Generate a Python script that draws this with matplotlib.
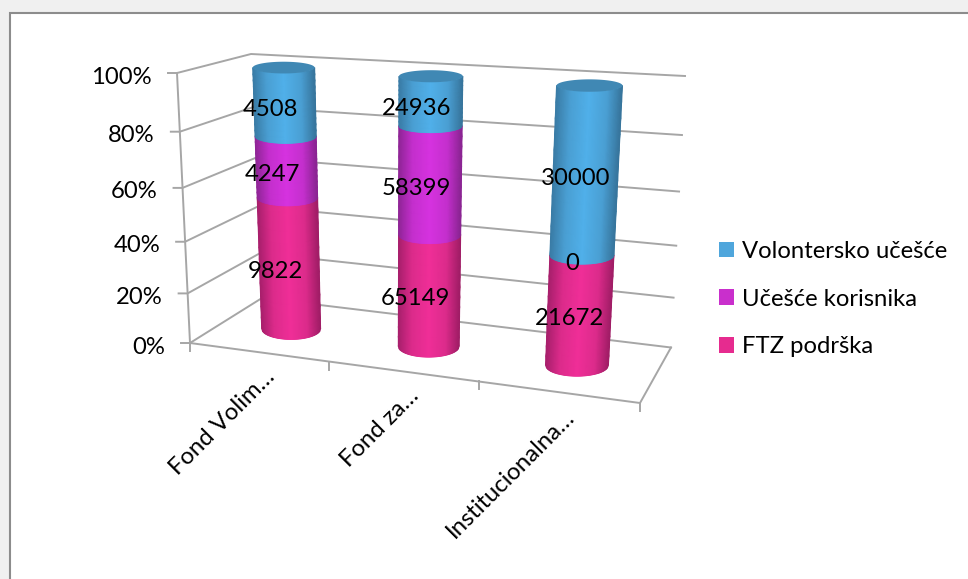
# plot.py
# 100% stacked cylinders on a hand made 3D box, the way the spreadsheet draws them

import matplotlib
matplotlib.use("Agg")
import matplotlib.pyplot as plt
from matplotlib.colors import LinearSegmentedColormap
from matplotlib.patches import Patch, Polygon, Rectangle
import numpy as np

categories = ["Fond Volim…", "Fond za…", "Institucionalna…"]
series_names = ["FTZ podrška", "Učešće korisnika", "Volontersko učešće"]
ftz_podrska = [9822, 65149, 21672]
ucesce_korisnika = [4247, 58399, 0]
volontersko = [4508, 24936, 30000]
percent_ticks = [0, 20, 40, 60, 80, 100]

# box corners in pixels: front/back, left/right, bottom/top
FL0, FR0 = np.array([190, 343.0]), np.array([640, 403.0])
BL0, BR0 = np.array([262, 298.0]), np.array([671, 347.5])
FL1, FR1 = np.array([177, 73.0]), np.array([662, 105.0])
BL1, BR1 = np.array([251, 54.0]), np.array([685, 76.0])

plt.rcParams["font.family"] = ["Lato", "DejaVu Sans"]
FS = 17.2
GRID = "#a6a6a6"

shades = [
    [(0, "#a81f6c"), (0.22, "#dc2b8b"), (0.5, "#f02e98"), (0.78, "#dc2b8b"), (1, "#a01d66")],
    [(0, "#8f2596"), (0.22, "#c42fcd"), (0.5, "#d632e0"), (0.78, "#c42fcd"), (1, "#8a2492")],
    [(0, "#3a7ca6"), (0.22, "#4a9fd3"), (0.5, "#50b0ea"), (0.78, "#4a9fd3"), (1, "#37759c")],
]


def persp_u(u):
    return u * 0.894 / (u * 0.894 + (1 - u))


def persp_h(h):
    return h * 0.9 / (h * 0.9 + (1 - h))


def project(u, v, h):
    # u along categories, v into the depth, h share of height
    s, t = persp_u(u), persp_h(h)
    front = (FL0 + (FR0 - FL0) * s) * (1 - t) + (FL1 + (FR1 - FL1) * s) * t
    back = (BL0 + (BR0 - BL0) * s) * (1 - t) + (BL1 + (BR1 - BL1) * s) * t
    return front * (1 - v) + back * v


def radii(u, h):
    s, t = persp_u(u), persp_h(h)
    return 29 + 3 * s + 1.5 * t, 10.5 + 0.5 * s - 4.7 * t


fig = plt.figure(figsize=(9.68, 5.79), dpi=100, facecolor="#f0f0f0")
ax = fig.add_axes([0, 0, 1, 1])
ax.set_xlim(0, 968)
ax.set_ylim(579, 0)
ax.axis("off")

ax.add_patch(Rectangle((9.5, 12.5), 1000, 600, fc="white", ec="#8c8c8c", lw=1.5, zorder=0))

# walls and floor
for p in percent_ticks:
    h = p / 100
    a, b, c = project(0, 0, h), project(0, 1, h), project(1, 1, h)
    ax.plot([a[0] - 9, a[0], b[0], c[0]], [a[1], a[1], b[1], c[1]], color=GRID, lw=1.4, zorder=1)
    ax.text(a[0] - 25, a[1] + 4, f"{p}%", ha="right", va="center", fontsize=FS, color="black", zorder=5)

bottom, top = project(0, 0, 0), project(0, 0, 1)
ax.plot([bottom[0], top[0]], [bottom[1], top[1]], color=GRID, lw=1.4, zorder=1)
corners = np.array([project(0, 0, 0), project(1, 0, 0), project(1, 1, 0)])
ax.plot(corners[:, 0], corners[:, 1], color=GRID, lw=1.4, zorder=1)
for i in range(len(categories) + 1):
    q = project(i / len(categories), 0, 0)
    ax.plot([q[0], q[0]], [q[1], q[1] + 8], color=GRID, lw=1.4, zorder=1)

# cylinders
label_shift = [-14, -14, -10]
stacks = np.array([ftz_podrska, ucesce_korisnika, volontersko], dtype=float)
us = np.linspace(-1, 1, 61)

for i in range(len(categories)):
    u = (i + 0.5) / len(categories)
    total = stacks[:, i].sum()
    base = 0.0
    for k in range(len(series_names)):
        val = stacks[k, i]
        h0, h1 = base / total, (base + val) / total
        if val > 0:
            hs = np.linspace(h0, h1, 12)
            X, Y = [], []
            for h in hs:
                c = project(u, 0.5, h)
                hw, hh = radii(u, h)
                X.append(c[0] + us * hw)
                Y.append(c[1] + hh * np.sqrt(1 - us ** 2))
            C = np.tile(us, (len(hs), 1))
            cmap = LinearSegmentedColormap.from_list(f"c{k}", shades[k])
            ax.pcolormesh(np.array(X), np.array(Y), C, cmap=cmap, vmin=-1, vmax=1,
                          shading="gouraud", zorder=2)
        # label sits a bit under the middle of its segment
        mid = (project(u, 0.5, h0) + project(u, 0.5, h1)) / 2
        ax.text(mid[0] + label_shift[i], mid[1] + 8, f"{int(val)}", ha="center", va="center",
                fontsize=FS, color="black", zorder=6)
        base += val

    c = project(u, 0.5, 1)
    hw, hh = radii(u, 1)
    th = np.linspace(0, 2 * np.pi, 80)
    ell = np.column_stack([c[0] + hw * np.cos(th), c[1] + hh * np.sin(th)])
    ax.add_patch(Polygon(ell, fc="#4088b4", ec="none", zorder=3))

    # category label, rotated and ending under the tick gap
    q = project(u, 0, 0)
    ax.text(q[0] + 6, q[1] + 14, categories[i], rotation=45, ha="right", va="top",
            rotation_mode="anchor", fontsize=FS, color="black", zorder=5)

legend_colors = ["#e62b8f", "#c92fcc", "#4fa6dc"]
handles = [Patch(fc=col, ec="none") for col in legend_colors]
ax.legend(handles[::-1], series_names[::-1], loc="center left", bbox_to_anchor=(712, 299),
          bbox_transform=ax.transData, frameon=False, fontsize=FS, handlelength=0.63,
          handleheight=0.63, handletextpad=0.33, labelspacing=1.12, labelcolor="black",
          borderpad=0.3, borderaxespad=0)

fig.savefig("out.png", dpi=100, facecolor=fig.get_facecolor())
